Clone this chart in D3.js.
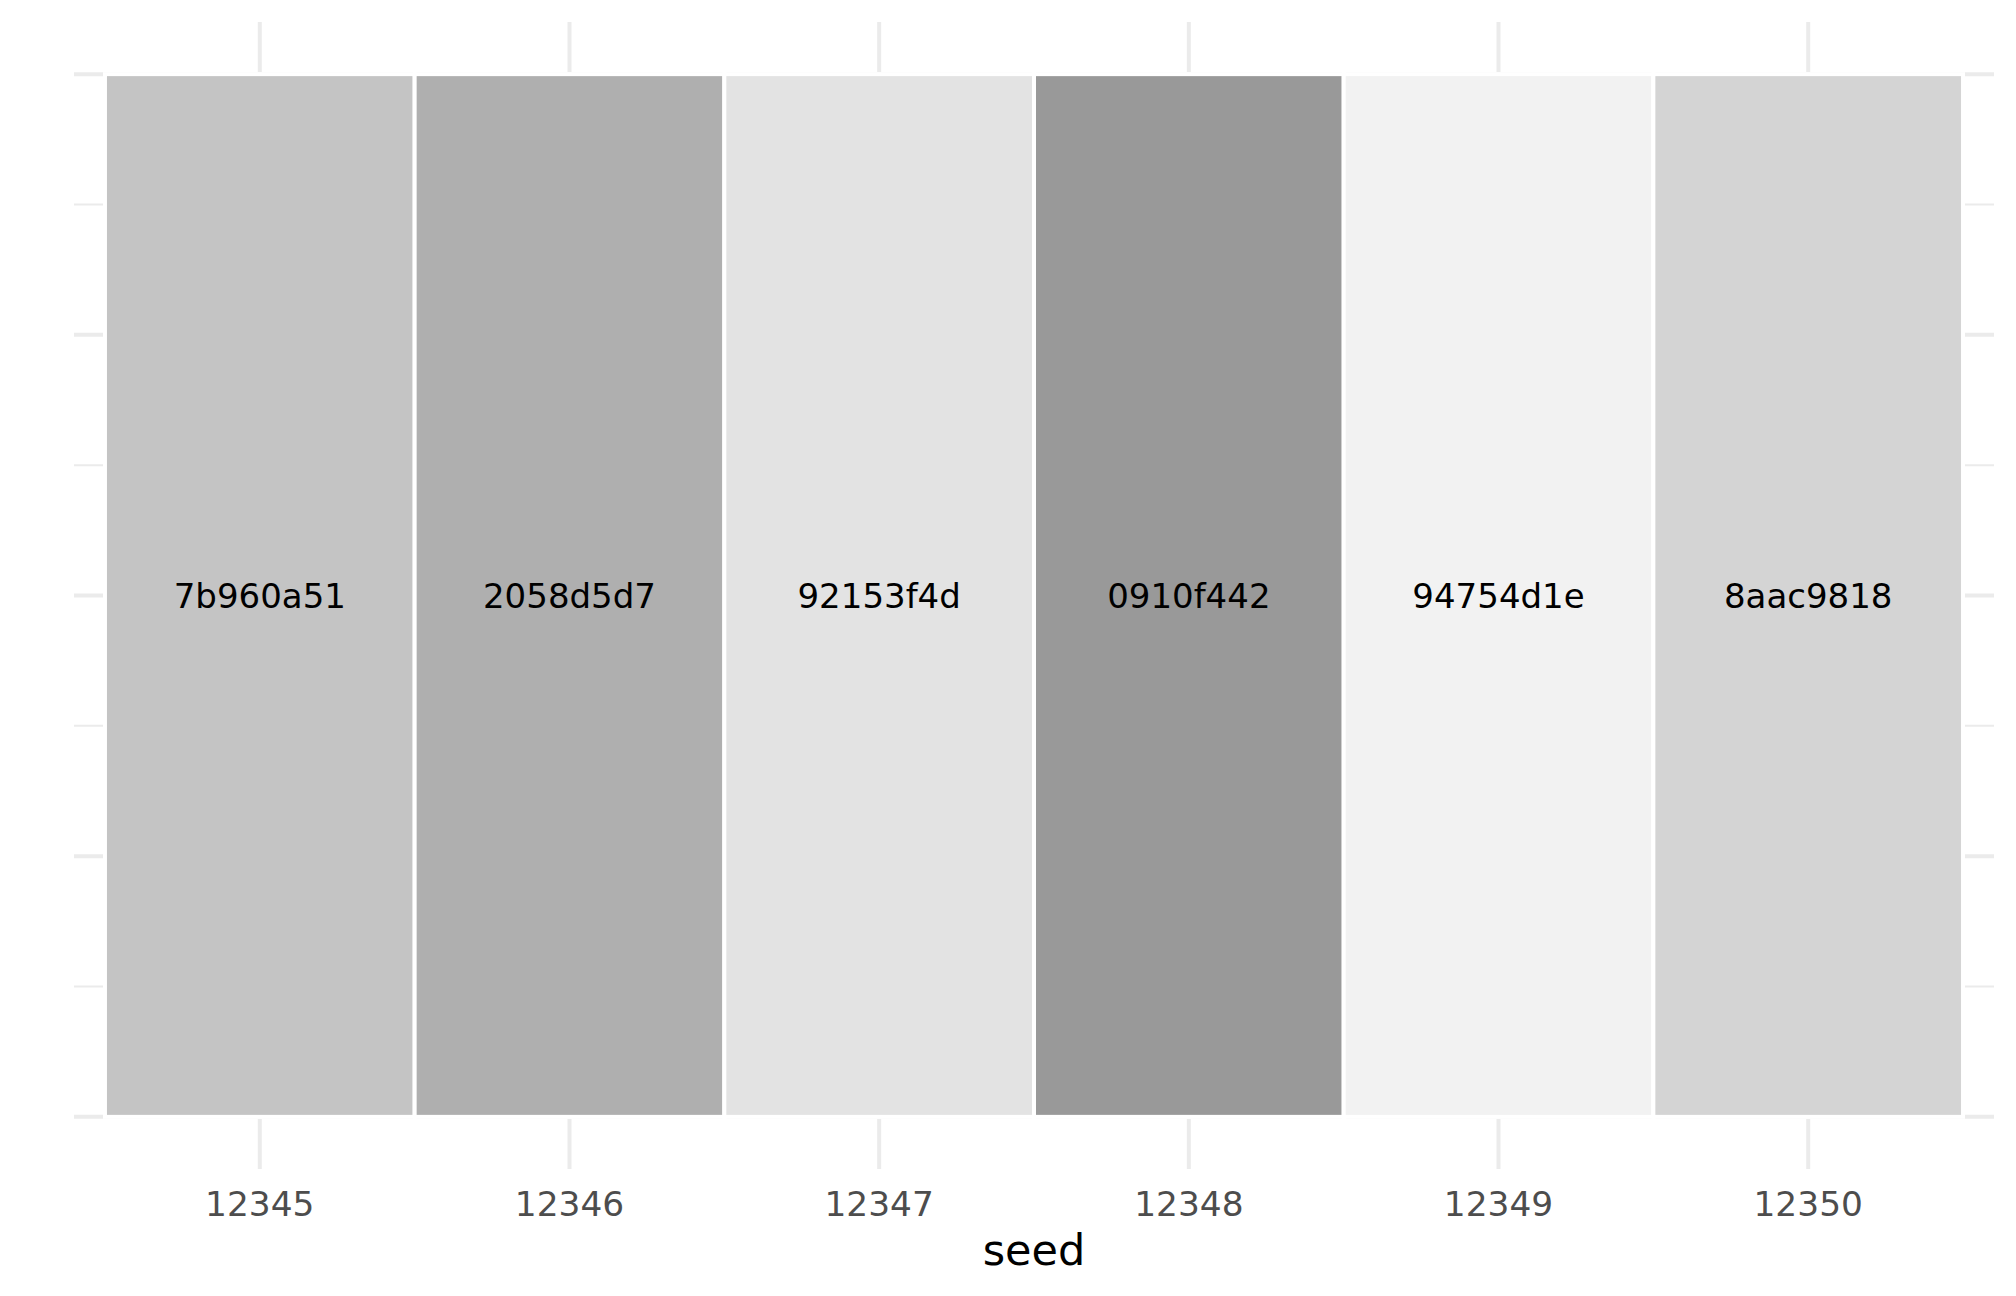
<!DOCTYPE html>
<html>
<head>
<meta charset="utf-8">
<script src="https://cdn.jsdelivr.net/npm/d3@7"></script>
<style>
    body { margin: 0; background: #fff; }
    text { font-family: 'DejaVu Sans', sans-serif; }
</style>
</head>
<body>
<script>
// seeds on the x axis
var seeds = ['12345', '12346', '12347', '12348', '12349', '12350']
// hash text drawn in each tile
var hashes = ['7b960a51', '2058d5d7', '92153f4d', '0910f442', '94754d1e', '8aac9818']
// grey level of each tile (0 = black, 255 = white)
var shades = [196, 175, 227, 153, 242, 212]
// y is a dummy continuous axis, every tile spans it
var yMajor = [0, 0.25, 0.5, 0.75, 1]
var yMinor = [0.125, 0.375, 0.625, 0.875]

var width = 2016
var height = 1296

var panel = {left: 74, right: 1994, top: 22, bottom: 1169}

var svg = d3.select('body')
    .append('svg')
    .attr('width', width)
    .attr('height', height)

// discrete x, ggplot adds 0.6 of a step beyond the outer centres
var step = (panel.right - panel.left) / (seeds.length + 0.2)
var x = d3.scaleBand()
    .domain(seeds)
    .range([panel.left + 0.1 * step, panel.right - 0.1 * step])
    .padding(0)

// continuous y with 5% expansion
var y = d3.scaleLinear()
    .domain([-0.05, 1.05])
    .range([panel.bottom, panel.top])

var fill = d3.scaleLinear()
    .domain([0, 255])
    .range(['#000000', '#ffffff'])

var grid = svg.append('g').attr('class', 'grid')

grid.selectAll('line.minor')
    .data(yMinor)
    .enter()
    .append('line')
    .attr('class', 'minor')
    .attr('x1', panel.left)
    .attr('x2', panel.right)
    .attr('y1', d => y(d))
    .attr('y2', d => y(d))
    .attr('stroke', '#ebebeb')
    .attr('stroke-width', 2)

grid.selectAll('line.major')
    .data(yMajor)
    .enter()
    .append('line')
    .attr('class', 'major')
    .attr('x1', panel.left)
    .attr('x2', panel.right)
    .attr('y1', d => y(d))
    .attr('y2', d => y(d))
    .attr('stroke', '#ebebeb')
    .attr('stroke-width', 4)

grid.selectAll('line.vert')
    .data(seeds)
    .enter()
    .append('line')
    .attr('class', 'vert')
    .attr('x1', d => x(d) + x.bandwidth() / 2)
    .attr('x2', d => x(d) + x.bandwidth() / 2)
    .attr('y1', panel.top)
    .attr('y2', panel.bottom)
    .attr('stroke', '#ebebeb')
    .attr('stroke-width', 4)

var tiles = svg.append('g').attr('class', 'tiles')

tiles.selectAll('rect')
    .data(seeds)
    .enter()
    .append('rect')
    .attr('x', d => x(d))
    .attr('y', y(1))
    .attr('width', x.bandwidth())
    .attr('height', y(0) - y(1))
    .attr('fill', (d, i) => fill(shades[i]))
    .attr('stroke', '#ffffff')
    .attr('stroke-width', 4)

tiles.selectAll('text')
    .data(seeds)
    .enter()
    .append('text')
    .attr('x', d => x(d) + x.bandwidth() / 2)
    .attr('y', y(0.5))
    .attr('dy', '0.37em')
    .attr('text-anchor', 'middle')
    .attr('font-size', '34px')
    .attr('fill', '#000')
    .text((d, i) => hashes[i])

// x axis labels only, no line or ticks
var xAxis = d3.axisBottom(x).tickSize(0).tickPadding(0)

var axisG = svg.append('g')
    .attr('transform', 'translate(0,' + 1216 + ')')
    .call(xAxis)

axisG.select('.domain').remove()
axisG.selectAll('text')
    .attr('dy', 0)
    .attr('y', 0)
    .attr('font-size', '34.4px')
    .attr('font-family', "'DejaVu Sans', sans-serif")
    .attr('fill', '#4d4d4d')

svg.append('text')
    .attr('x', (panel.left + panel.right) / 2)
    .attr('y', 1265)
    .attr('text-anchor', 'middle')
    .attr('font-size', '43px')
    .attr('fill', '#000')
    .text('seed')
</script>
</body>
</html>
